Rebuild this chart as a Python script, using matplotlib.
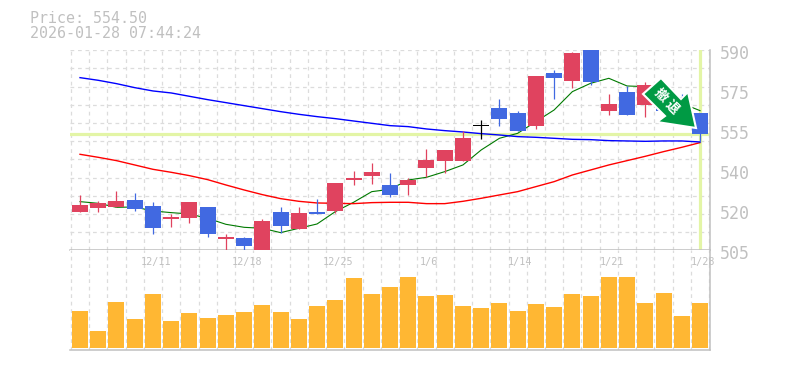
import numpy as np
import matplotlib
matplotlib.use('Agg')
import matplotlib.pyplot as plt
from matplotlib.patches import Polygon

plt.rcParams['font.family'] = ['DejaVu Sans Mono', 'Noto Sans CJK JP']

last_price = 554.50
stamp = '2026-01-28 07:44:24'

# candles, one row per day
opens = [521.29, 522.99, 523.27, 526.39, 523.84, 518.46, 518.74, 523.41, 509.82, 510.24,
         504.72, 521.29, 514.07, 521.29, 521.72, 534.89, 536.59, 532.77, 532.77, 539.99,
         542.97, 542.97, 557.70, 565.49, 563.37, 557.84, 580.37, 576.97, 592.00, 564.22,
         572.29, 566.77, 573.14, 570.30, 563.37]
closes = [524.26, 525.11, 525.97, 522.57, 514.49, 518.74, 525.54, 511.94, 510.67, 506.84,
          517.47, 515.34, 520.87, 520.44, 533.62, 535.74, 538.29, 528.52, 534.89, 543.39,
          547.64, 552.74, 557.70, 560.82, 555.72, 579.09, 578.24, 588.87, 576.54, 567.19,
          562.52, 575.27, 564.36, 561.80, 554.50]
highs = [528.52, 525.97, 530.22, 529.37, 525.54, 520.44, 525.54, 523.41, 511.94, 510.67,
         518.32, 523.41, 523.41, 526.82, 533.62, 538.72, 542.12, 537.87, 535.74, 548.06,
         547.64, 555.72, 560.39, 569.31, 564.22, 579.09, 581.64, 589.29, 595.00, 571.44,
         574.84, 576.54, 574.00, 571.50, 563.37]
lows = [521.29, 521.29, 523.27, 521.72, 511.94, 514.92, 516.62, 510.67, 504.72, 505.14,
        504.72, 512.37, 514.07, 520.44, 520.87, 532.77, 533.19, 527.67, 528.52, 536.17,
        537.87, 542.97, 552.31, 557.84, 555.72, 556.57, 569.31, 573.99, 575.27, 562.52,
        562.52, 561.67, 564.00, 561.00, 551.04]

ma_short = [525.68, 524.97, 523.27, 523.41, 521.72, 521.01, 520.44, 518.60, 516.05, 514.77,
            514.35, 512.51, 514.35, 516.19, 521.43, 525.40, 529.93, 530.92, 534.89, 536.02,
            538.43, 541.27, 547.64, 552.60, 554.72, 559.68, 564.64, 572.43, 575.97, 578.10,
            574.84, 574.56, 571.72, 567.47, 564.36]
ma_mid = [545.80, 544.52, 543.11, 541.27, 539.42, 538.15, 536.73, 535.03, 532.77, 530.64,
          528.66, 526.96, 525.82, 525.12, 524.97, 524.83, 525.26, 525.40, 525.40, 524.83,
          524.83, 525.82, 527.10, 528.52, 529.93, 532.06, 534.18, 537.01, 539.14, 541.27,
          543.11, 544.95, 546.93, 548.77, 550.76]
ma_long = [578.38, 577.25, 575.83, 574.13, 572.72, 571.87, 570.45, 569.03, 567.76, 566.48,
           565.21, 563.93, 562.80, 561.81, 560.96, 559.96, 558.97, 557.98, 557.56, 556.57,
           555.86, 555.29, 554.58, 554.01, 553.31, 553.02, 552.60, 552.17, 552.03, 551.61,
           551.47, 551.32, 551.47, 551.47, 551.04]

volumes = [37, 17, 46, 29, 54, 27, 35, 30, 33, 36, 43, 36, 29, 42, 48, 70, 54, 61,
           71, 52, 53, 42, 40, 45, 37, 44, 41, 54, 52, 71, 71, 45, 55, 32, 45]

date_pos = [4, 9, 14, 19, 24, 29, 34]
date_labels = ['12/11', '12/18', '12/25', '1/6', '1/14', '1/21', '1/28']
price_pos = [590, 573, 556, 539, 522, 505]
price_labels = ['590', '575', '555', '540', '520', '505']

W, H = 785, 370
RED = '#e0435f'
BLUE = '#4169e1'
GRID = '#dcdcdc'
AXIS = '#c0c0c0'
TXT = '#c0c0c0'
PALE = '#e3f5a6'


def box(x0, y0, x1, y1):
    return [x0 / W, 1 - y1 / H, (x1 - x0) / W, (y1 - y0) / H]


fig = plt.figure(figsize=(W / 100, H / 100), dpi=100)
ax = fig.add_axes(box(70.3, 50.3, 710, 250.3))
ax2 = fig.add_axes(box(70.3, 250.3, 710, 350.3))
x = np.arange(len(opens))

for a in (ax, ax2):
    a.set_xlim(-0.532, 34.548)
    for s in ('left', 'top'):
        a.spines[s].set_visible(False)
    for s in ('right', 'bottom'):
        a.spines[s].set_color(AXIS)
        a.spines[s].set_linewidth(1.1)
    a.set_xticks(np.arange(-0.5, 35, 1))
    a.set_xticklabels([])
    a.tick_params(length=0)
    a.grid(True, axis='x', color=GRID, linestyle=(0, (3, 3)), linewidth=0.9)
    a.set_axisbelow(True)

ax.set_ylim(505, 590)
ax.set_yticks(np.linspace(505, 590, 12))
ax.set_yticklabels([])
ax.grid(True, axis='y', color=GRID, linestyle=(0, (3, 3)), linewidth=0.9)

ax.plot(x, ma_short, color='#007a00', lw=0.8, zorder=2)
ax.plot(x, ma_mid, color='#ff0000', lw=1, zorder=2)
ax.plot(x, ma_long, color='#0000ff', lw=1, zorder=2)

ax.axhline(last_price, color=PALE, lw=2.3, zorder=1.5)
ax.axvline(34, color=PALE, lw=2.3, zorder=1.5)

for i in x:
    if closes[i] > opens[i]:
        col = RED
    elif closes[i] < opens[i]:
        col = BLUE
    else:
        col = 'black'
    ax.vlines(i, lows[i], highs[i], color=col, lw=0.9, zorder=3)
    bot = min(opens[i], closes[i])
    hgt = max(abs(closes[i] - opens[i]), 0.6)
    ax.bar(i, hgt, 0.88, bot, color=col, zorder=3)

ax2.bar(x, volumes, 0.88, color='#ffb733', zorder=3)
ax2.set_ylim(-2.3, 97.7)
ax2.set_yticks([])

# date labels sit just under the price panel, price labels right of the frame
for p, lab in zip(date_pos, date_labels):
    ax2.annotate(lab, (p, 1), xycoords=ax2.get_xaxis_transform(), xytext=(2, -8.5),
                 textcoords='offset points', ha='center', va='center',
                 fontsize=7.3, color=TXT, zorder=5)
for p, lab in zip(price_pos, price_labels):
    ax.annotate(lab, (1, p), xycoords=ax.get_yaxis_transform(), xytext=(7, -2.9),
                textcoords='offset points', ha='left', va='center',
                fontsize=12, color=TXT, clip_on=False)

fig.text(30 / W, 1 - 18.5 / H, f'Price: {last_price:.2f}', fontsize=10.8, color=TXT, va='center')
fig.text(30 / W, 1 - 33 / H, stamp, fontsize=10.8, color=TXT, va='center')

# arrow badge, in figure pixels
badge = [(661, 78), (681, 99), (688, 92), (696, 128), (657, 122), (665, 116), (643, 94)]
badge = [(px / W, 1 - py / H) for px, py in badge]
fig.add_artist(Polygon(badge, closed=True, transform=fig.transFigure, facecolor='#009a44',
                       edgecolor='white', linewidth=1.5, zorder=6))
fig.text(661 / W, 1 - 95 / H, '撤', family='Noto Sans CJK JP', fontsize=9.5, weight='bold',
         color='white', rotation=-45, ha='center', va='center', zorder=7)
fig.text(672 / W, 1 - 107 / H, '退', family='Noto Sans CJK JP', fontsize=9.5, weight='bold',
         color='white', rotation=-45, ha='center', va='center', zorder=7)

fig.savefig('out.png', dpi=100)
